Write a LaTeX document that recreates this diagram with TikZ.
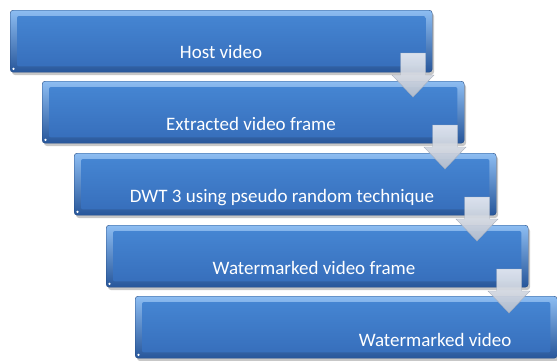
\documentclass[tikz,border=0pt]{standalone}
\usepackage{fontspec}
\setmainfont{Carlito}
\usetikzlibrary{calc}
\definecolor{boxtop}{HTML}{8DBDF2}
\definecolor{boxbot}{HTML}{27569A}
\definecolor{facetop}{HTML}{4585D2}
\definecolor{facebot}{HTML}{376FBC}
\definecolor{arrtop}{HTML}{E8EBF1}
\definecolor{arrbot}{HTML}{BAC1CE}
\definecolor{arredge}{HTML}{A3ABB9}
\tikzset{
  stagebox/.style={rectangle, rounded corners=3pt, minimum width=422pt, minimum height=62pt,
    inner sep=0pt, top color=boxtop, bottom color=boxbot, draw=boxbot!85!black, line width=0.4pt},
  stageface/.style={rounded corners=2pt, top color=facetop, bottom color=facebot},
  stageshadow/.style={fill=black, opacity=0.22, rounded corners=3pt},
  stagetext/.style={anchor=base, text=white, font=\fontsize{19}{22}\selectfont, inner sep=0pt},
  flowarrow/.style={top color=arrtop, bottom color=arrbot, draw=arredge, line width=0.4pt, opacity=0.92}
}
\newcommand{\stage}[3]{% name, left x, top y
  \fill[stageshadow] (#2+2,#3+3) rectangle ++(422,62);
  \node[stagebox, anchor=north west] (#1) at (#2,#3) {};
  \shade[stageface] ($(#1.north west)+(7,6)$) rectangle ($(#1.south east)+(-7,-6)$);
  \fill[white] ($(#1.south west)+(3.5,-3.5)$) circle (1.3);
}
\newcommand{\blockarr}[3]{% name, center x, top y
  \coordinate (#1) at (#2,#3);
  \path[flowarrow] ($(#1)+(-12.5,0)$) -- ($(#1)+(12.5,0)$) -- ($(#1)+(12.5,22)$) -- ($(#1)+(21,22)$)
    -- ($(#1)+(0,44)$) -- ($(#1)+(-21,22)$) -- ($(#1)+(-12.5,22)$) -- cycle;
}
\begin{document}
\begin{tikzpicture}[x=1pt,y=-1pt]
\useasboundingbox[fill=white] (0,0) rectangle (557,360);
\stage{b1}{10}{10}
\stage{b2}{42}{81}
\stage{b3}{74}{153}
\stage{b4}{106}{225}
\stage{b5}{135}{296}
\node[stagetext] (t1) at (221,58) {Host video};
\node[stagetext] (t2) at (251,130) {Extracted video frame};
\node[stagetext] (t3) at (282,202) {DWT 3 using pseudo random technique};
\node[stagetext] (t4) at (314,274) {Watermarked video frame};
\node[stagetext] (t5) at (435,346) {Watermarked video};
\blockarr{a1}{413}{53}
\blockarr{a2}{445}{125}
\blockarr{a3}{477}{197}
\blockarr{a4}{509}{269}
\end{tikzpicture}
\end{document}
